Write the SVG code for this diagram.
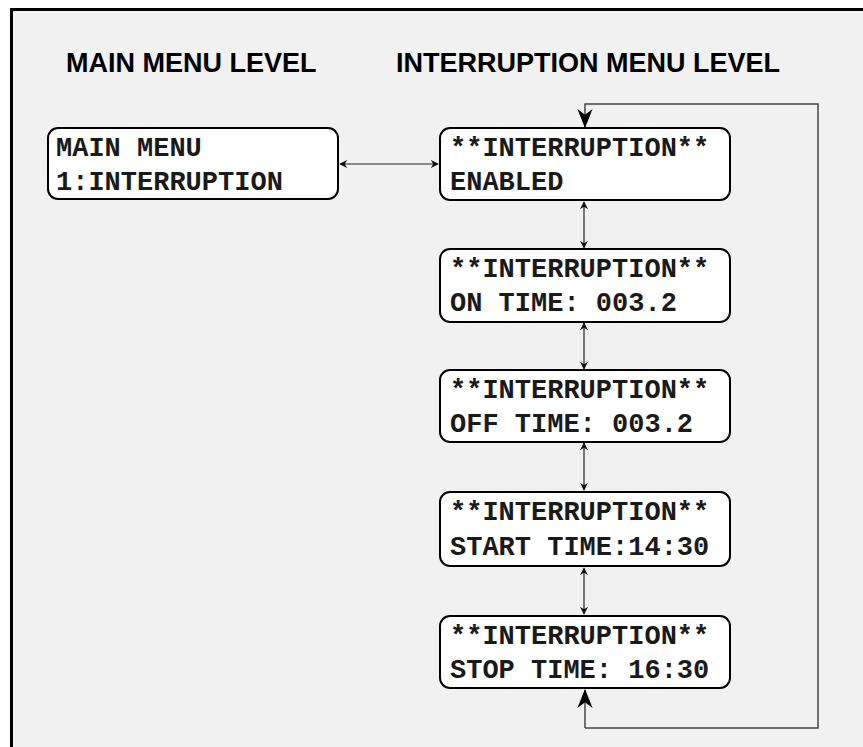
<svg xmlns="http://www.w3.org/2000/svg" width="863" height="747" viewBox="0 0 863 747">
<style>
.hdr{font-family:"Liberation Sans",Arial,sans-serif;font-weight:bold;font-size:27px;fill:#000}
.box{fill:#fff;stroke:#000;stroke-width:2}
.lcd{font-family:"Liberation Mono","Courier New",monospace;font-weight:bold;font-size:27px;fill:#1a1a1a}
.con{fill:none;stroke:#222;stroke-width:1.2}
.loop{fill:none;stroke:#444;stroke-width:1.5}
</style>
<defs>
<marker id="sa" viewBox="0 0 10 10" refX="9" refY="5" markerWidth="8" markerHeight="8" markerUnits="userSpaceOnUse" orient="auto-start-reverse">
<path d="M0,0 L10,5 L0,10 L3,5 Z" fill="#111"/>
</marker>
<marker id="la" viewBox="0 0 10 10" refX="9.5" refY="5" markerWidth="19" markerHeight="19" markerUnits="userSpaceOnUse" orient="auto">
<path d="M0,1 L10,5 L0,9 L3,5 Z" fill="#000"/>
</marker>
</defs>
<rect width="863" height="747" fill="#fff"/>
<rect x="11.5" y="9.5" width="900" height="800" fill="#f1f1f1" stroke="#000" stroke-width="3"/>
<text class="hdr" x="66" y="72">MAIN MENU LEVEL</text>
<text class="hdr" x="396" y="72">INTERRUPTION MENU LEVEL</text>

<g id="connectors">
<line class="con" x1="340" y1="164" x2="438" y2="164" marker-start="url(#sa)" marker-end="url(#sa)"/>
<line class="con" x1="584" y1="202" x2="584" y2="248" marker-start="url(#sa)" marker-end="url(#sa)"/>
<line class="con" x1="584" y1="323" x2="584" y2="369" marker-start="url(#sa)" marker-end="url(#sa)"/>
<line class="con" x1="584" y1="443" x2="584" y2="490" marker-start="url(#sa)" marker-end="url(#sa)"/>
<line class="con" x1="584" y1="568" x2="584" y2="614" marker-start="url(#sa)" marker-end="url(#sa)"/>
<polyline class="loop" points="585,728 818,728 818,104 585,104 585,127" marker-end="url(#la)"/>
<polyline class="loop" points="585,728 585,690" marker-end="url(#la)"/>
</g>

<g id="main-menu">
<rect class="box" x="48" y="128" width="290" height="71" rx="10"/>
<text class="lcd" x="56" y="156">MAIN MENU</text>
<text class="lcd" x="56" y="190">1:INTERRUPTION</text>
</g>
<g id="enabled">
<rect class="box" x="440" y="128" width="290" height="72" rx="10"/>
<text class="lcd" x="450" y="156">**INTERRUPTION**</text>
<text class="lcd" x="450" y="190">ENABLED</text>
</g>
<g id="on-time">
<rect class="box" x="440" y="249" width="290" height="73" rx="10"/>
<text class="lcd" x="450" y="277">**INTERRUPTION**</text>
<text class="lcd" x="450" y="311">ON TIME: 003.2</text>
</g>
<g id="off-time">
<rect class="box" x="440" y="370" width="290" height="72" rx="10"/>
<text class="lcd" x="450" y="398">**INTERRUPTION**</text>
<text class="lcd" x="450" y="432">OFF TIME: 003.2</text>
</g>
<g id="start-time">
<rect class="box" x="440" y="492" width="290" height="74" rx="10"/>
<text class="lcd" x="450" y="520">**INTERRUPTION**</text>
<text class="lcd" x="450" y="555">START TIME:14:30</text>
</g>
<g id="stop-time">
<rect class="box" x="440" y="616" width="290" height="72" rx="10"/>
<text class="lcd" x="450" y="644">**INTERRUPTION**</text>
<text class="lcd" x="450" y="678">STOP TIME: 16:30</text>
</g>
</svg>
